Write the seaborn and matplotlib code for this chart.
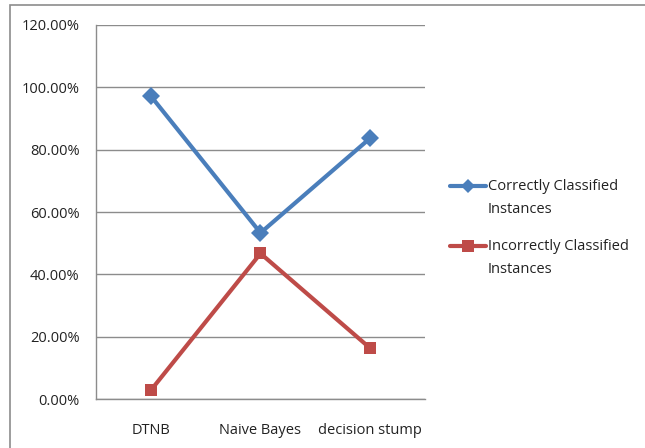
import matplotlib
matplotlib.use("Agg")
import matplotlib.pyplot as plt
import seaborn as sns
import pandas as pd
from matplotlib.patches import Rectangle
from matplotlib.lines import Line2D
from matplotlib.ticker import FixedLocator, PercentFormatter

classifiers = ["DTNB", "Naive Bayes", "decision stump"]
correct = [97.2, 53.3, 83.7]
incorrect = [2.8, 46.7, 16.3]
y_ticks = [0, 20, 40, 60, 80, 100, 120]
series_names = ["Correctly Classified Instances", "Incorrectly Classified Instances"]
legend_lines = [["Correctly Classified", "Instances"], ["Incorrectly Classified", "Instances"]]

sns.set_theme(style="white")
plt.rcParams["font.family"] = ["Open Sans", "DejaVu Sans"]

df = pd.DataFrame({
    "Classifier": classifiers * 2,
    "Percent": correct + incorrect,
    "Series": [series_names[0]] * 3 + [series_names[1]] * 3,
})

W, H = 645, 448
fig = plt.figure(figsize=(W / 100, H / 100), dpi=100)
ax = fig.add_axes([96 / W, 49 / H, 329 / W, 374 / H])

colors = {series_names[0]: "#4A7EBB", series_names[1]: "#BE4B48"}
markers = {series_names[0]: "D", series_names[1]: "s"}
sns.lineplot(data=df, x="Classifier", y="Percent", hue="Series", style="Series",
             palette=colors, markers=markers, dashes=False, linewidth=3,
             markersize=9, markeredgewidth=0, ax=ax, legend=False, zorder=3)

ax.set_xlim(-0.5, 2.5)
ax.set_ylim(0, 120)
ax.set_yticks(y_ticks)
ax.yaxis.set_major_formatter(PercentFormatter(decimals=2))
ax.yaxis.grid(True, color="#8c8c8c", linewidth=1)
ax.set_axisbelow(True)
ax.set_xlabel("")
ax.set_ylabel("")

ax.set_xticks(range(len(classifiers)))
ax.set_xticklabels(classifiers)
ax.xaxis.set_minor_locator(FixedLocator([-0.5, 0.5, 1.5, 2.5]))
ax.tick_params(axis="x", which="major", length=0, pad=17, labelsize=10.5,
               labelcolor="#222222")
ax.tick_params(axis="x", which="minor", length=4, width=1, color="#8c8c8c",
               direction="out")
ax.tick_params(axis="y", length=3.7, width=1, color="#8c8c8c", direction="out",
               labelsize=10.5, labelcolor="#222222", pad=8)

for side in ["top", "right"]:
    ax.spines[side].set_visible(False)
for side in ["left", "bottom"]:
    ax.spines[side].set_color("#8c8c8c")
    ax.spines[side].set_linewidth(1)

# Legend to the right of the plot: key aligned with the first line of each label
legend_top = [186, 246]
for name, lines, y0 in zip(series_names, legend_lines, legend_top):
    yf = 1 - y0 / H
    fig.add_artist(Line2D([450 / W, 486 / W], [yf, yf], color=colors[name],
                          linewidth=3, transform=fig.transFigure))
    fig.add_artist(Line2D([468 / W], [yf], color=colors[name], marker=markers[name],
                          markersize=7 if markers[name] == "D" else 8,
                          markeredgewidth=0, transform=fig.transFigure))
    for i, line in enumerate(lines):
        fig.text(488 / W, 1 - (y0 + 23 * i) / H, line, fontsize=10.5,
                 color="#222222", va="center", ha="left")

fig.patches.append(Rectangle((10 / W, -0.05), 1.0, 1.05 - 5 / H,
                             transform=fig.transFigure, fill=False,
                             edgecolor="#8c8c8c", linewidth=1.2))

fig.savefig("out.png", dpi=100)
